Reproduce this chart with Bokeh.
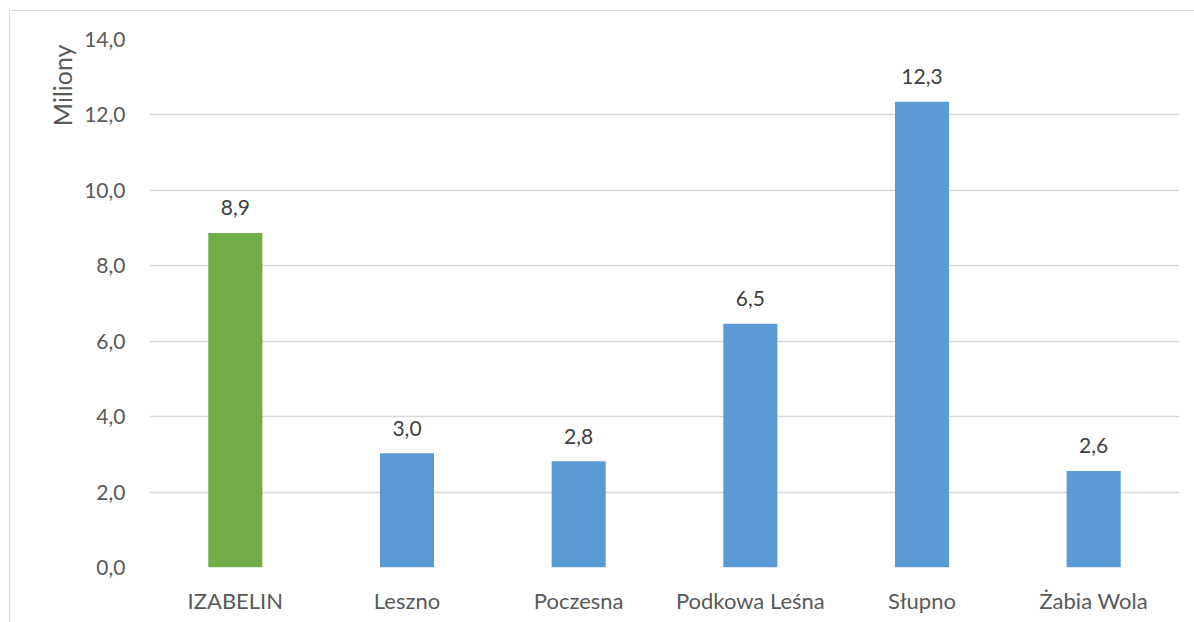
from bokeh.plotting import figure
from bokeh.models import ColumnDataSource, Title, FixedTicker, CustomJSTickFormatter
from bokeh.core.properties import value
from bokeh.embed import file_html
from bokeh.resources import INLINE

categories = ["IZABELIN", "Leszno", "Poczesna", "Podkowa Leśna", "Słupno", "Żabia Wola"]
values = [8.87, 3.03, 2.82, 6.46, 12.35, 2.56]
colors = ["#70AD47", "#5B9BD5", "#5B9BD5", "#5B9BD5", "#5B9BD5", "#5B9BD5"]
labels = ["8,9", "3,0", "2,8", "6,5", "12,3", "2,6"]
y_ticks = [0, 2, 4, 6, 8, 10, 12, 14]

FONT = "Lato"
TXT = "#595959"
GRID = "#d9d9d9"

src = ColumnDataSource(dict(cat=categories, val=values, col=colors, lab=labels))

p = figure(x_range=categories, y_range=(0, 14), width=1185, height=612,
           output_backend="svg", toolbar_location=None,
           min_border_left=139, min_border_right=16, min_border_top=28, min_border_bottom=56)
p.margin = (10, 0, 0, 9)
p.styles = {"border-left": f"1px solid {GRID}", "border-top": f"1px solid {GRID}"}
p.outline_line_color = None

p.vbar(x="cat", top="val", width=0.315, fill_color="col", line_color=None, source=src)
p.text(x="cat", y="val", text="lab", source=src, text_align="center", text_baseline="alphabetic",
       y_offset=-25, text_font=value(FONT), text_font_size="21px", text_color="#404040")

p.yaxis.ticker = FixedTicker(ticks=y_ticks)
p.yaxis.formatter = CustomJSTickFormatter(code="return tick.toFixed(1).replace('.', ',');")
for ax in (p.xaxis, p.yaxis):
    ax.axis_line_color = None
    ax.major_tick_line_color = None
    ax.minor_tick_line_color = None
    ax.major_label_text_font = FONT
    ax.major_label_text_font_size = "21px"
    ax.major_label_text_color = TXT
p.xaxis.major_label_text_font_size = "22px"
p.yaxis.major_label_standoff = 18
p.xaxis.major_label_standoff = 13
p.xgrid.grid_line_color = None
p.ygrid.grid_line_color = GRID
p.ygrid.grid_line_width = 1.3

p.add_layout(Title(text="Miliony", align="right", offset=5, standoff=10,
                   text_font=FONT, text_font_size="25px", text_font_style="normal",
                   text_color=TXT), "left")

open("out.html", "w").write(file_html(p, INLINE))
